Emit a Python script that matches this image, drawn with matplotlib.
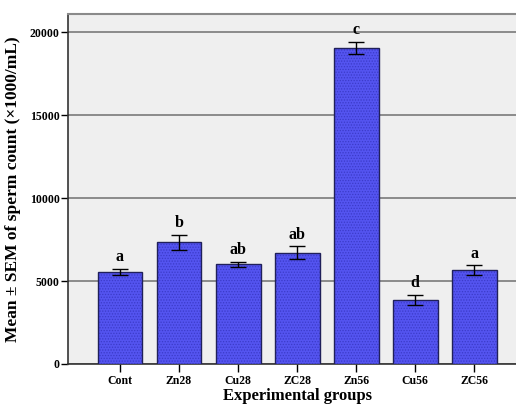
import matplotlib

matplotlib.use("Agg")
import matplotlib.pyplot as plt
import numpy as np

groups = ["Cont", "Zn28", "Cu28", "ZC28", "Zn56", "Cu56", "ZC56"]
means = [5560, 7330, 6000, 6700, 19050, 3850, 5660]
sems = [170, 460, 160, 390, 380, 300, 280]
letters = ["a", "b", "ab", "ab", "c", "d", "a"]
yticks = [0, 5000, 10000, 15000, 20000]

plt.rcParams["font.family"] = ["Liberation Serif", "DejaVu Serif"]
plt.rcParams["font.weight"] = "bold"
plt.rcParams["hatch.linewidth"] = 0.6

fig = plt.figure(figsize=(5.16, 4.07), dpi=100)
ax = fig.add_axes([0.1318, 0.1057, 0.888, 0.86])
ax.set_facecolor("#efefef")

x = np.arange(len(groups))
# textured fill first, then a clean outline on top
ax.bar(x, means, width=0.76, color="#5454f0", edgecolor="#3b3bc9",
       hatch="......", linewidth=0, zorder=3)
ax.bar(x, means, width=0.76, fill=False, edgecolor="#20205a",
       linewidth=1.0, zorder=4)
ax.errorbar(x, means, yerr=sems, fmt="none", ecolor="black",
            elinewidth=1.0, capsize=6, capthick=1.0, zorder=5)

for xi, m, s, lab in zip(x, means, sems, letters):
    ax.text(xi, m + s + 220, lab, ha="center", va="bottom",
            fontsize=11.5, fontweight="bold")

ax.set_xlim(-0.88, 6.88)
ax.set_ylim(0, 21100)
ax.set_yticks(yticks)
ax.set_yticklabels([str(t) for t in yticks])
ax.set_xticks(x)
ax.set_xticklabels(groups)
ax.yaxis.grid(True, color="#7a7a7a", linewidth=1.2, zorder=0)
ax.set_axisbelow(True)

for side in ["top", "right"]:
    ax.spines[side].set_color("#8a8a8a")
    ax.spines[side].set_linewidth(1.5)
for side in ["left", "bottom"]:
    ax.spines[side].set_color("#333333")
    ax.spines[side].set_linewidth(1.2)

ax.tick_params(axis="y", length=5, width=1, labelsize=8.5, pad=1)
ax.tick_params(axis="x", length=6, width=1, labelsize=8.5, pad=2)

ax.set_ylabel("Mean \u00b1 SEM of sperm count (\u00d71000/mL)",
              fontsize=12.5, fontweight="bold", labelpad=6)
ax.set_xlabel("Experimental groups", fontsize=12, fontweight="bold",
              labelpad=1)

fig.savefig("out.png")
